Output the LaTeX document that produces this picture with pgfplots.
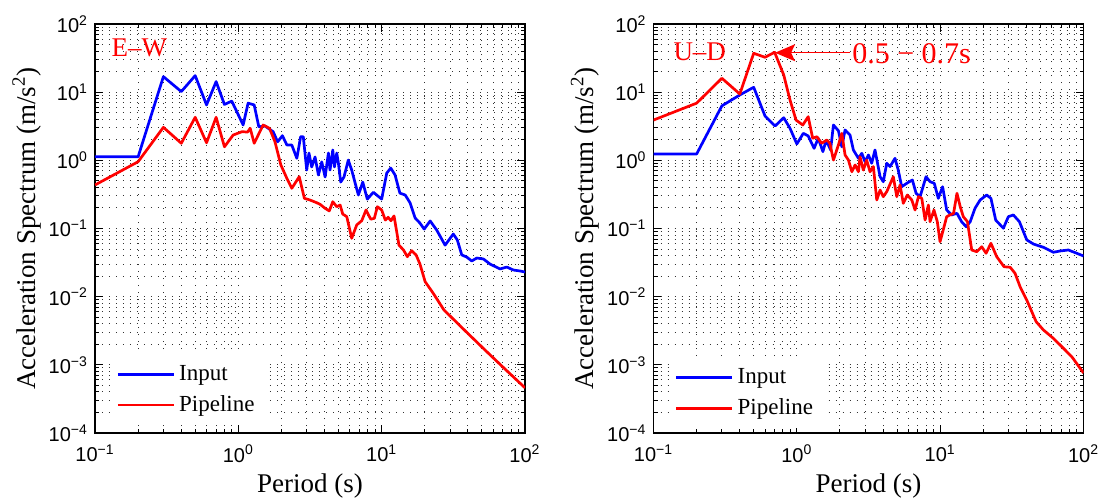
\documentclass[border=0pt]{standalone}
\usepackage{fontspec}
\setmainfont{Liberation Serif}
\setsansfont{Liberation Sans}
\usepackage{pgfplots}
\usepackage{pgfplotstable}
\pgfplotsset{compat=1.18}
\usetikzlibrary{arrows.meta}

\pgfplotstableread{
T A
0.1 1.13
0.2 1.13
0.3 16.9
0.4 10.2
0.5 17.5
0.6 6.5
0.7 14.3
0.8 6.6
0.9 7.4
1.08 3.3
1.17 6.9
1.29 6.5
1.39 3.1
1.53 3.2
1.75 2.63
1.88 1.87
2.03 2.30
2.18 1.68
2.36 1.68
2.56 1.07
2.72 2.22
2.84 2.22
3.0 0.72
3.11 1.28
3.25 0.80
3.43 1.12
3.62 0.61
3.82 0.95
4.03 0.57
4.25 1.28
4.36 0.72
4.56 1.42
4.68 0.80
4.86 1.28
4.99 0.91
5.18 0.48
5.46 0.57
5.85 1.01
6.18 0.72
6.52 0.47
6.88 0.31
7.38 0.48
7.94 0.27
8.75 0.34
10.0 0.27
10.85 0.65
11.57 0.77
12.4 0.61
13.4 0.33
14.6 0.31
15.8 0.237
17.1 0.143
18.5 0.120
19.8 0.098
21.8 0.129
24.2 0.095
27.7 0.057
31.6 0.083
33.7 0.068
36.2 0.041
39.3 0.038
42.5 0.0334
46.1 0.0369
51.3 0.0357
57.0 0.0301
67.0 0.0255
74.6 0.0272
83.0 0.0246
92.4 0.0238
100 0.0230
}\leftinput

\pgfplotstableread{
T A
0.1 0.435
0.2 0.955
0.3 3.05
0.4 1.78
0.5 4.28
0.6 1.81
0.7 4.28
0.8 1.58
0.92 2.35
1.06 2.63
1.16 2.6
1.21 2.95
1.29 1.78
1.49 3.30
1.65 2.95
1.80 1.88
1.98 0.855
2.18 0.545
2.36 0.389
2.66 0.575
2.89 0.277
3.16 0.262
3.52 0.239
3.72 0.226
4.03 0.198
4.31 0.181
4.56 0.247
4.86 0.209
5.13 0.221
5.35 0.163
5.71 0.149
6.18 0.0719
6.70 0.113
7.26 0.130
7.78 0.187
8.39 0.137
8.89 0.141
9.33 0.209
10.0 0.187
10.6 0.133
11.1 0.146
11.6 0.130
12.2 0.153
13.2 0.057
14.2 0.0484
15.1 0.0386
16.2 0.0473
17.4 0.0408
18.5 0.0301
20.1 0.0166
22.9 0.0112
27.2 0.00638
38.0 0.0032
52.6 0.00165
72.0 0.00088
100 0.00046
}\leftpipe

\pgfplotstableread{
T A
0.1 1.24
0.2 1.24
0.3 6.3
0.4 9.1
0.5 11.8
0.6 4.47
0.705 3.19
0.81 4.22
0.896 2.95
1.0 1.74
1.11 2.49
1.20 2.28
1.32 1.50
1.41 2.11
1.52 1.34
1.59 1.88
1.66 1.68
1.72 1.42
1.80 3.30
1.95 2.72
2.06 1.58
2.17 2.79
2.35 2.35
2.48 1.42
2.69 1.07
2.84 1.27
2.99 0.955
3.16 1.20
3.33 0.906
3.51 1.42
3.81 0.575
4.01 0.486
4.24 0.906
4.47 0.81
4.84 1.07
5.10 0.72
5.39 0.41
5.84 0.46
6.40 0.515
6.79 0.329
7.24 0.293
7.97 0.575
8.5 0.486
9.1 0.46
9.7 0.277
10.4 0.41
11.1 0.187
12.0 0.158
13.1 0.167
14.1 0.126
15.2 0.106
16.2 0.126
17.5 0.198
19.0 0.262
21.1 0.31
22.6 0.277
24.4 0.133
27.6 0.101
29.9 0.149
32.4 0.158
35.7 0.126
40.2 0.068
44.7 0.0593
52.5 0.053
61.6 0.0448
68.7 0.0468
78.4 0.0484
89.8 0.0433
100 0.0395
}\rightinput

\pgfplotstableread{
T A
0.1 3.9
0.2 6.9
0.3 16.0
0.4 9.4
0.5 37.2
0.6 32.5
0.7 38.5
0.81 17.9
0.896 7.7
0.987 3.9
1.10 3.30
1.20 4.37
1.29 2.11
1.38 2.22
1.49 1.78
1.62 1.99
1.70 1.78
1.80 1.01
1.95 1.68
2.06 2.49
2.17 1.20
2.29 1.01
2.42 0.68
2.55 0.855
2.69 0.68
2.76 1.13
2.91 0.72
3.07 1.01
3.24 0.68
3.42 0.81
3.61 0.262
3.81 0.367
4.01 0.293
4.24 0.347
4.71 0.575
4.98 0.293
5.25 0.435
5.53 0.234
5.90 0.31
6.34 0.262
6.68 0.187
7.05 0.293
7.44 0.277
7.85 0.133
8.27 0.221
8.5 0.126
9.05 0.187
9.55 0.126
9.98 0.064
10.5 0.095
11.1 0.149
11.7 0.158
12.4 0.167
13.1 0.329
13.8 0.209
14.5 0.149
15.5 0.126
16.6 0.0484
18.0 0.0457
19.5 0.054
20.9 0.0433
22.6 0.0607
24.8 0.0386
27.9 0.0275
30.8 0.0270
33.3 0.0220
36.1 0.0140
40.2 0.0089
46.7 0.0043
52.5 0.00325
61.6 0.00245
72.4 0.00175
83.2 0.0013
100 0.00076
}\rightpipe

\tikzset{
  inpline/.style={blue, line width=1.35pt, line join=round},
  pipline/.style={red, line width=1.35pt, line join=round},
  mydots/.style={black!80, line width=0.5pt, dash pattern=on 0.5pt off 3pt},
}

\begin{document}
\begin{tikzpicture}
\begin{axis}[
    xmode=log, ymode=log,
    at={(0pt,0pt)}, anchor=south west,
    xmin=0.1, xmax=100, ymin=1e-4, ymax=100,
    scale only axis, width=215pt, height=204.5pt,
    xtick={0.1,1,10,100},
    xticklabels={10\textsuperscript{−1},10\textsuperscript{0},10\textsuperscript{1},10\textsuperscript{2}},
    ytick={1e-4,1e-3,1e-2,1e-1,1,10,100},
    yticklabels={10\textsuperscript{−4},10\textsuperscript{−3},10\textsuperscript{−2},10\textsuperscript{−1},10\textsuperscript{0},10\textsuperscript{1},10\textsuperscript{2}},
    minor xtick={0.2,0.3,0.4,0.5,0.6,0.7,0.8,0.9,2,3,4,5,6,7,8,9,20,30,40,50,60,70,80,90},
    minor ytick={2e-4,3e-4,4e-4,5e-4,6e-4,7e-4,8e-4,9e-4,2e-3,3e-3,4e-3,5e-3,6e-3,7e-3,8e-3,9e-3,0.02,0.03,0.04,0.05,0.06,0.07,0.08,0.09,0.2,0.3,0.4,0.5,0.6,0.7,0.8,0.9,2,3,4,5,6,7,8,9,20,30,40,50,60,70,80,90},
    grid=both,
    major grid style={mydots},
    minor grid style={mydots},
    tick label style={font=\fontsize{10}{11}\selectfont\sffamily},
    xticklabel style={yshift=-2.5pt},
    label style={font=\fontsize{13.5}{15}\selectfont},
    ylabel shift=-3pt,
    xlabel shift=-1pt,
    xlabel={Period (s)},
    ylabel={Acceleration Spectrum (m/s\textsuperscript{2})},
    axis line style={black, line width=0.6pt},
    major tick length=4pt, minor tick length=2pt,
    tick style={black, line width=0.5pt},
    legend cell align=left,
    legend style={at={(0.035,0.02)}, anchor=south west, draw=none, fill=white,
      font=\fontsize{11.5}{13}\selectfont, row sep=2pt, inner sep=3pt},
    legend image code/.code={\draw[#1] (0pt,0pt) -- (28pt,0pt);},
]
\addplot[inpline] table[x=T,y=A] {\leftinput};
\addlegendentry{Input}
\addplot[pipline] table[x=T,y=A] {\leftpipe};
\addlegendentry{Pipeline}
\node[red, anchor=west, inner sep=0pt, font=\fontsize{13.5}{15}\selectfont] at (axis cs:0.13,44) {E–W};
\end{axis}
\begin{axis}[
    xmode=log, ymode=log,
    at={(279.25pt,0pt)}, anchor=south west,
    xmin=0.1, xmax=100, ymin=1e-4, ymax=100,
    scale only axis, width=215pt, height=204.5pt,
    xtick={0.1,1,10,100},
    xticklabels={10\textsuperscript{−1},10\textsuperscript{0},10\textsuperscript{1},10\textsuperscript{2}},
    ytick={1e-4,1e-3,1e-2,1e-1,1,10,100},
    yticklabels={10\textsuperscript{−4},10\textsuperscript{−3},10\textsuperscript{−2},10\textsuperscript{−1},10\textsuperscript{0},10\textsuperscript{1},10\textsuperscript{2}},
    minor xtick={0.2,0.3,0.4,0.5,0.6,0.7,0.8,0.9,2,3,4,5,6,7,8,9,20,30,40,50,60,70,80,90},
    minor ytick={2e-4,3e-4,4e-4,5e-4,6e-4,7e-4,8e-4,9e-4,2e-3,3e-3,4e-3,5e-3,6e-3,7e-3,8e-3,9e-3,0.02,0.03,0.04,0.05,0.06,0.07,0.08,0.09,0.2,0.3,0.4,0.5,0.6,0.7,0.8,0.9,2,3,4,5,6,7,8,9,20,30,40,50,60,70,80,90},
    grid=both,
    major grid style={mydots},
    minor grid style={mydots},
    tick label style={font=\fontsize{10}{11}\selectfont\sffamily},
    xticklabel style={yshift=-2.5pt},
    label style={font=\fontsize{13.5}{15}\selectfont},
    ylabel shift=-3pt,
    xlabel shift=-1pt,
    xlabel={Period (s)},
    ylabel={Acceleration Spectrum (m/s\textsuperscript{2})},
    axis line style={black, line width=0.6pt},
    major tick length=4pt, minor tick length=2pt,
    tick style={black, line width=0.5pt},
    legend cell align=left,
    legend style={at={(0.035,0.012)}, anchor=south west, draw=none, fill=white,
      font=\fontsize{11.5}{13}\selectfont, row sep=2pt, inner sep=3pt},
    legend image code/.code={\draw[#1] (0pt,0pt) -- (28pt,0pt);},
]
\addplot[inpline] table[x=T,y=A] {\rightinput};
\addlegendentry{Input}
\addplot[pipline] table[x=T,y=A] {\rightpipe};
\addlegendentry{Pipeline}
\node[red, anchor=west, inner sep=0pt, font=\fontsize{13.5}{15}\selectfont] at (axis cs:0.137,39) {U–D};
\draw[red, line width=0.6pt, -{Stealth[length=10pt,width=8.5pt,inset=2pt]}] (axis cs:2.35,37.9) -- (axis cs:0.705,37.9);
\node[red, anchor=west, inner sep=0pt, font=\fontsize{15}{17}\selectfont] at (axis cs:2.42,36.3) {0.5 − 0.7s};
\end{axis}
\pgfresetboundingbox
\useasboundingbox (-47.5pt,-33pt) rectangle (503.5pt,216.5pt);
\end{tikzpicture}
\end{document}
